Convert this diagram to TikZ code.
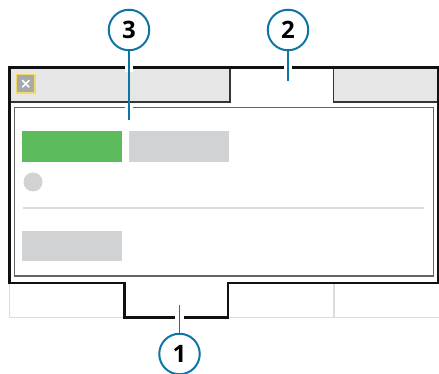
\documentclass[tikz,border=0pt]{standalone}
\usepackage{fontspec}
\setmainfont{Open Sans}
\definecolor{calloutblue}{HTML}{0F75A8}
\definecolor{tabgray}{HTML}{E6E6E6}
\definecolor{blockgray}{HTML}{D1D2D4}
\definecolor{rulegray}{HTML}{DCDCDC}
\definecolor{framedark}{HTML}{111111}
\definecolor{okgreen}{HTML}{5CBB5C}
\definecolor{closegray}{HTML}{A8A9AD}
\definecolor{closeedge}{HTML}{F2D95F}
\tikzset{
  callout/.style={circle,draw=calloutblue,line width=2pt,fill=white,minimum size=40.5pt,inner sep=0pt,font=\fontsize{24}{24}\selectfont\bfseries},
  leader/.style={draw=calloutblue,line width=1.7pt},
  halo/.style={draw=white,line width=8.5pt},
  lightrule/.style={draw=rulegray,line width=1.1pt},
  tabline/.style={draw=framedark!85,line width=1.2pt},
  panelline/.style={draw=framedark!65,line width=1.2pt},
  heavy/.style={draw=framedark,line width=2.3pt,line join=miter}
}
\begin{document}
\begin{tikzpicture}[x=1pt,y=-1pt]
\useasboundingbox[fill=white] (0,0) rectangle (439,374);
% tab strip
\fill[tabgray] (9.5,67.5) rectangle (437.5,102);
\fill[white] (230,67.5) rectangle (333,103);
% lower tabs
\draw[lightrule] (9.5,283) -- (9.5,317.5) -- (124.5,317.5);
\draw[lightrule] (228,317.5) -- (439,317.5);
\draw[lightrule] (334,283) -- (334,317.5);
% tab separators
\draw[tabline] (9.5,102) -- (230,102) -- (230,67.5);
\draw[tabline] (333.5,67.5) -- (333.5,102) -- (437.5,102);
% inner panel
\draw[panelline] (14.5,107.5) rectangle (433.5,276);
% outer frame
\draw[heavy] (9.5,283) -- (9.5,67.5) -- (438,67.5) -- (438,283) -- (228,283) -- (228,317.5) -- (124.5,317.5) -- (124.5,283) -- cycle;
% close button
\path[fill=closegray,draw=closeedge,line width=1.5pt] (16.5,74.5) rectangle (35,93.2);
\draw[white,line width=1.6pt] (22.2,80.2) -- (29.2,87.2) (29.2,80.2) -- (22.2,87.2);
% content
\fill[okgreen] (22,131) rectangle (122,162);
\fill[blockgray] (128.5,131) rectangle (228.5,162);
\fill[blockgray] (33,182) circle (9.5);
\draw[lightrule] (23,208) -- (424,208);
\fill[blockgray] (22,231) rectangle (122,261);
% callouts
\node (c3) [callout] at (129,30) {3};
\node (c2) [callout] at (288,30) {2};
\node (c1) [callout] at (179.5,354) {1};
\coordinate (t3) at (129,120);
\coordinate (t2) at (288,81);
\coordinate (t1) at (179.5,305);
\draw[halo] (129,63) -- (129,72);
\draw[halo] (129,104) -- (129,111);
\draw[halo] (288,63) -- (288,72);
\draw[halo] (179.5,313) -- (179.5,322);
\draw[leader] (c3) -- (t3);
\draw[leader] (c2) -- (t2);
\draw[leader] (c1) -- (t1);
\end{tikzpicture}
\end{document}
